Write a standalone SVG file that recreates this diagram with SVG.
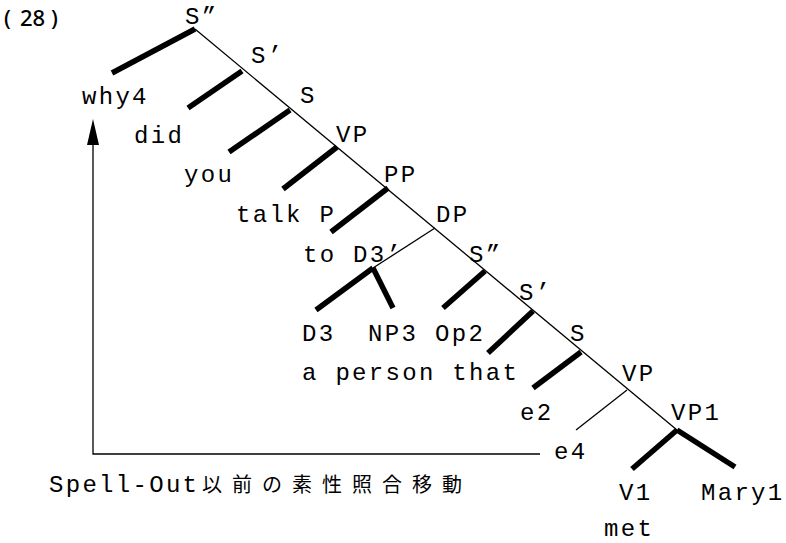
<svg xmlns="http://www.w3.org/2000/svg" width="786" height="543" viewBox="0 0 786 543">
<style>
.t{font-family:"Liberation Mono",monospace;font-size:24px;letter-spacing:2.3px;fill:#000}
.thin{stroke:#000;stroke-width:1.3;fill:none}
.thick{stroke:#000;stroke-width:5.5;fill:none}
.num{font-family:"Noto Sans",sans-serif;font-size:22px;font-weight:500;fill:#000}
.cjk{font-family:"Noto Sans CJK JP",sans-serif;font-size:20px;letter-spacing:10px}
</style>
<rect width="786" height="543" fill="#fff"/>
<g id="label"><text class="num" x="4" y="26">(<tspan x="20">28</tspan><tspan x="51">)</tspan></text></g>
<g id="connectors">
<line class="thin" x1="195" y1="29" x2="677" y2="430"/>
<line class="thick" x1="195" y1="29" x2="112" y2="73"/>
<line class="thick" x1="242" y1="71" x2="188" y2="108"/>
<line class="thick" x1="290" y1="110" x2="229" y2="152"/>
<line class="thick" x1="337" y1="147" x2="283" y2="189"/>
<line class="thick" x1="388" y1="188" x2="331" y2="232"/>
<line class="thin" x1="435" y1="228" x2="373" y2="268"/>
<line class="thick" x1="373" y1="268" x2="316" y2="310"/>
<line class="thick" x1="373" y1="268" x2="393" y2="308"/>
<line class="thick" x1="485" y1="271" x2="443" y2="308"/>
<line class="thick" x1="533" y1="311" x2="488" y2="353"/>
<line class="thick" x1="581" y1="352" x2="533" y2="388"/>
<line class="thin" x1="627" y1="390" x2="576" y2="430"/>
<line class="thick" x1="677" y1="430" x2="632" y2="469"/>
<line class="thick" x1="677" y1="430" x2="735" y2="467"/>
<polyline class="thin" points="540,454 93,454 93,140"/>
<polygon points="93,119 87,145 99,145" fill="#000"/>
</g>
<g id="n-S2a"><text class="t" x="185" y="24">S”</text></g>
<g id="n-S1a"><text class="t" x="251" y="63">S’</text></g>
<g id="n-Sa"><text class="t" x="300" y="103">S</text></g>
<g id="n-VPa"><text class="t" x="336" y="142">VP</text></g>
<g id="n-PP"><text class="t" x="384" y="182">PP</text></g>
<g id="n-DP"><text class="t" x="436" y="222">DP</text></g>
<g id="n-why4"><text class="t" x="82" y="104">why4</text></g>
<g id="n-did"><text class="t" x="134" y="143">did</text></g>
<g id="n-you"><text class="t" x="184" y="182">you</text></g>
<g id="n-talk"><text class="t" x="236" y="222">talk P</text></g>
<g id="n-to"><text class="t" x="303" y="262">to D3’</text></g>
<g id="n-S2b"><text class="t" x="469" y="262">S”</text></g>
<g id="n-S1b"><text class="t" x="519" y="300">S’</text></g>
<g id="n-D3"><text class="t" x="302" y="341">D3</text></g>
<g id="n-NP3"><text class="t" x="368" y="341">NP3</text></g>
<g id="n-Op2"><text class="t" x="435" y="341">Op2</text></g>
<g id="n-person"><text class="t" x="302" y="380">a person that</text></g>
<g id="n-Sb"><text class="t" x="570" y="341">S</text></g>
<g id="n-VPb"><text class="t" x="622" y="381">VP</text></g>
<g id="n-e2"><text class="t" x="520" y="420">e2</text></g>
<g id="n-VP1"><text class="t" x="671" y="420">VP1</text></g>
<g id="n-e4"><text class="t" x="554" y="459">e4</text></g>
<g id="n-V1"><text class="t" x="619" y="500">V1</text></g>
<g id="n-Mary1"><text class="t" x="701" y="500" letter-spacing="1.6">Mary1</text></g>
<g id="n-met"><text class="t" x="604" y="536">met</text></g>
<g id="n-caption"><text class="t" x="49" y="492">Spell-Out<tspan class="cjk" x="202">以前の素性照合移動</tspan></text></g>
</svg>
